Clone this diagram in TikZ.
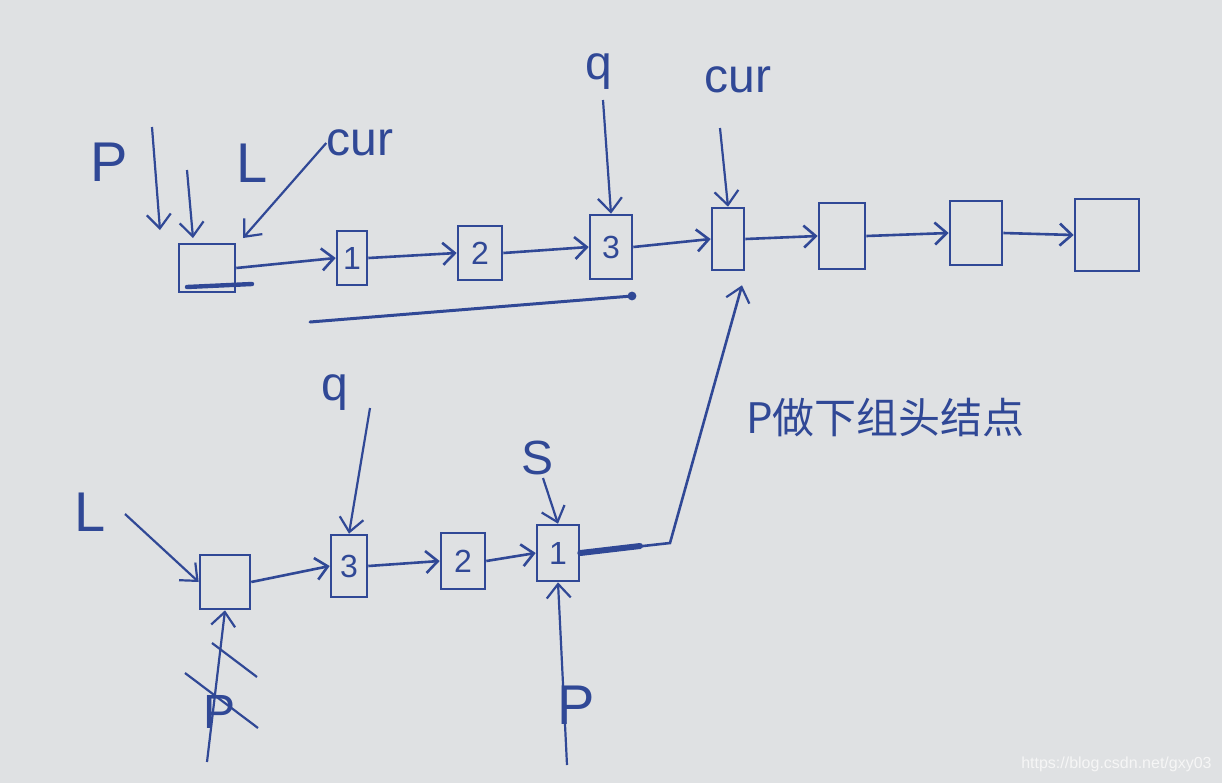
\documentclass[tikz,border=0pt]{standalone}
\usepackage{fontspec}
\setmainfont{Liberation Sans}
\newfontfamily\cjk{Noto Sans CJK SC}
\usetikzlibrary{arrows.meta,calc}
\definecolor{paper}{RGB}{223,225,227}
\definecolor{ink}{RGB}{48,72,150}
\definecolor{wmark}{RGB}{246,246,246}
\begin{document}
\begin{tikzpicture}[x=0.5pt,y=-0.5pt,
  nodebox/.style={draw=ink, line width=1.3pt, inner sep=0pt, text=ink,
    font=\fontsize{16}{16}\selectfont},
  link/.style={draw=ink, line width=1.3pt, -{Straight Barb[length=6pt,width=11pt,line width=1.3pt]}},
  ptr/.style={draw=ink, line width=1.1pt, -{Straight Barb[length=7pt,width=12pt,line width=1.1pt]}},
  lbl/.style={text=ink, inner sep=0pt},
  big/.style={font=\fontsize{28}{28}\selectfont},
  mid/.style={font=\fontsize{24}{24}\selectfont}
]
\fill[paper] (0,0) rectangle (1222,783);
\useasboundingbox (0,0) rectangle (1222,783);

% ---------- top list ----------
\node[nodebox, minimum width=28pt, minimum height=24pt] (H1) at (207,268) {};
\node[nodebox, minimum width=15pt, minimum height=27pt] (T1) at (352,258) {1};
\node[nodebox, minimum width=22pt, minimum height=27pt] (T2) at (480,253) {2};
\node[nodebox, minimum width=21pt, minimum height=32pt] (T3) at (611,247) {3};
\node[nodebox, minimum width=16pt, minimum height=31pt] (T4) at (728,239) {};
\node[nodebox, minimum width=23pt, minimum height=33pt] (T5) at (842,236) {};
\node[nodebox, minimum width=26pt, minimum height=32pt] (T6) at (976,233) {};
\node[nodebox, minimum width=32pt, minimum height=36pt] (T7) at (1107,235) {};

\draw[link] (H1.east) -- (T1.west);
\draw[link] (T1.east) -- (T2.west);
\draw[link] (T2.east) -- (T3.west);
\draw[link] (T3.east) -- (T4.west);
\draw[link] (T4.east) -- (T5.west);
\draw[link] (T5.east) -- (T6.west);
\draw[link] (T6.east) -- (T7.west);

% thick bar under head node
\draw[ink, line width=2.2pt, line cap=round] (187,287) -- (252,284);
% underline of nodes 1..3
\draw[ink, line width=1.5pt, line cap=round] (310,322) -- (632,296);
\fill[ink] (632,296) circle (2.2pt);

% labels and pointers (top)
\node[lbl, big] (lP1) at (109,162) {P};
\coordinate (sP1) at (152,127);
\draw[ptr] (sP1) -- (160,230);
\coordinate (sX1) at (187,170);
\draw[ptr] (sX1) -- (193,238);
\node[lbl, big] (lL1) at (252,163) {L};
\node[lbl, mid] (lC1) at (360,143) {cur};
\draw[ptr] (lC1.west) -- (243,238);

\node[lbl, mid] (lQ1) at (599,72) {q};
\coordinate (sQ1) at (603,100);
\draw[ptr] (sQ1) -- (T3.north);
\node[lbl, mid] (lC2) at (738,80) {cur};
\coordinate (sC2) at (720,128);
\draw[ptr] (sC2) -- (T4.north);

% ---------- bottom list ----------
\node[nodebox, minimum width=25pt, minimum height=27pt] (H2) at (225,582) {};
\node[nodebox, minimum width=18pt, minimum height=31pt] (B3) at (349,566) {3};
\node[nodebox, minimum width=22pt, minimum height=28pt] (B2) at (463,561) {2};
\node[nodebox, minimum width=21pt, minimum height=28pt] (B1) at (558,553) {1};

\draw[link] (H2.east) -- (B3.west);
\draw[link] (B3.east) -- (B2.west);
\draw[link] (B2.east) -- (B1.west);

\node[lbl, big] (lL2) at (90,512) {L};
\coordinate (sL2) at (125,514);
\draw[ptr] (sL2) -- (H2.west);

\node[lbl, mid] (lQ2) at (335,393) {q};
\coordinate (sQ2) at (370,408);
\draw[ptr] (sQ2) -- (B3.north);

\node[lbl, mid] (lS) at (538,458) {S};
\coordinate (sS) at (543,478);
\draw[ptr] (sS) -- (B1.north);

% p pointing at node 1 (bottom)
\coordinate (sP2) at (567,765);
\draw[ptr] (sP2) -- (B1.south);
\node[lbl, big, anchor=west] (lP2) at (557,705) {P};

% crossed-out p under head node
\coordinate (sP3) at (207,762);
\draw[ptr] (sP3) -- (H2.south);
\node[lbl, mid, anchor=west] (lP3) at (203,712) {P};
\draw[ink, line width=1.1pt] (212,643) -- (257,677);
\draw[ink, line width=1.1pt] (185,673) -- (258,728);

% p becomes head of next group
\coordinate (bend) at (670,543);
\draw[ink, line width=3pt, line cap=round] (B1.east) -- (640,546);
\draw[ptr, line width=1.3pt] (B1.east) -- (bend) -- ($(T4.south)+(14,14)$);

\node[lbl, anchor=west, font=\cjk\fontsize{21}{21}\selectfont] (note) at (746,418) {P做下组头结点};

% watermark
\node[text=wmark, anchor=east, inner sep=0pt, font=\fontsize{8}{8}\selectfont] (wm) at (1212,764) {https://blog.csdn.net/gxy03};
\end{tikzpicture}
\end{document}
